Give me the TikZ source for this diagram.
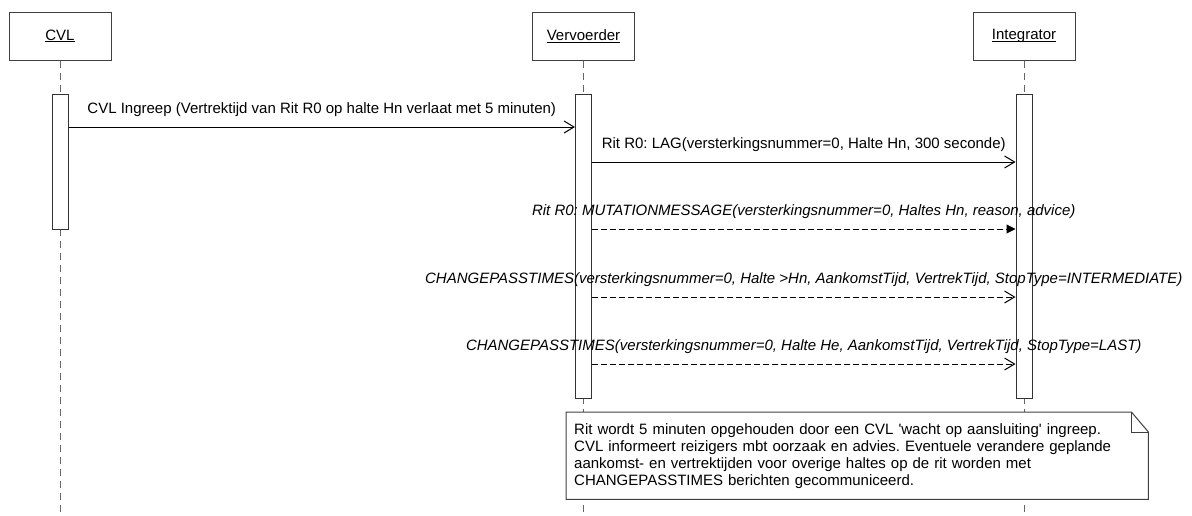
\documentclass[tikz,border=0pt]{standalone}
\usepackage{fontspec}
\setmainfont{Liberation Sans}
\usetikzlibrary{arrows.meta}
\frenchspacing
\newcommand\actorname[1]{\setbox0\hbox{#1}\rlap{\rule[-2.2pt]{\wd0}{0.9pt}}\box0}

\begin{document}
\begin{tikzpicture}[x=1pt,y=-1pt,font=\fontsize{15}{17}\selectfont]
\tikzstyle{actor}=[draw=black!75,fill=white,line width=1pt,minimum width=102pt,minimum height=48pt,inner sep=0pt]
\tikzstyle{activation}=[draw=black!80,fill=white,line width=1pt,minimum width=16pt,inner sep=0pt,anchor=north]
\tikzstyle{lifeline}=[draw=black!60,line width=1pt,dash pattern=on 7pt off 5pt]
\tikzstyle{call}=[draw,line width=1pt,-{Straight Barb[length=10pt,width=12pt]}]
\tikzstyle{reply}=[draw,line width=1pt,dash pattern=on 6pt off 3pt,-{Straight Barb[length=10pt,width=12pt]}]
\tikzstyle{asyncmsg}=[draw,line width=1pt,dash pattern=on 6pt off 3pt,-{Triangle[length=9pt,width=9pt]}]
\tikzstyle{msg}=[anchor=base,yshift=14pt,inner sep=0pt]
\tikzstyle{notebox}=[anchor=north west,fill=white,minimum width=582pt,minimum height=87pt,text width=566pt,inner xsep=8pt,inner ysep=0pt,align=left]
\useasboundingbox (0,0) rectangle (1192,515);
\coordinate (bot) at (0,515);
\node[actor] (p0) at (60,36) {\actorname{CVL}};
\node[actor] (p1) at (583.5,36) {\actorname{Vervoerder}};
\node[actor] (p2) at (1024,36) {\actorname{Integrator}};
\draw[lifeline] (p0.south) -- (p0.south |- bot);
\draw[lifeline] (p1.south) -- (p1.south |- bot);
\draw[lifeline] (p2.south) -- (p2.south |- bot);
\node[activation,minimum height=135pt] (b0) at (60,94) {};
\node[activation,minimum height=304pt] (b1) at (583.5,94) {};
\node[activation,minimum height=304pt] (b2) at (1024,94) {};
\coordinate (t1) at (0,127);
\coordinate (t2) at (0,162);
\coordinate (t3) at (0,229);
\coordinate (t4) at (0,297);
\coordinate (t5) at (0,364);
\draw[call] (t1 -| b0.east) -- node[msg] {CVL Ingreep (Vertrektijd van Rit R0 op halte Hn verlaat met 5 minuten)} (t1 -| b1.west);
\draw[call] (t2 -| b1.east) -- node[msg] {Rit R0: LAG(versterkingsnummer=0, Halte Hn, 300 seconde)} (t2 -| b2.west);
\draw[asyncmsg] (t3 -| b1.east) -- node[msg] {\itshape Rit R0: MUTATIONMESSAGE(versterkingsnummer=0, Haltes Hn, reason, advice)} (t3 -| b2.west);
\draw[reply] (t4 -| b1.east) -- node[msg] {\itshape CHANGEPASSTIMES(versterkingsnummer=0, Halte >Hn, AankomstTijd, VertrekTijd, StopType=INTERMEDIATE)} (t4 -| b2.west);
\draw[reply] (t5 -| b1.east) -- node[msg] {\itshape CHANGEPASSTIMES(versterkingsnummer=0, Halte He, AankomstTijd, VertrekTijd, StopType=LAST)} (t5 -| b2.west);
\node[notebox] (note) at (566,412) {Rit wordt 5 minuten opgehouden door een CVL \textquotesingle wacht op aansluiting\textquotesingle{} ingreep.\\
CVL informeert reizigers mbt oorzaak en advies. Eventuele verandere geplande\\
aankomst- en vertrektijden voor overige haltes op de rit worden met\\
CHANGEPASSTIMES berichten gecommuniceerd.};
\draw[draw=black!75,line width=1pt] (note.north west) -- ([xshift=-17pt]note.north east) -- ([yshift=-20pt]note.north east) -- (note.south east) -- (note.south west) -- cycle;
\draw[draw=black!75,line width=1pt] ([xshift=-17pt]note.north east) |- ([yshift=-20pt]note.north east);
\end{tikzpicture}
\end{document}
